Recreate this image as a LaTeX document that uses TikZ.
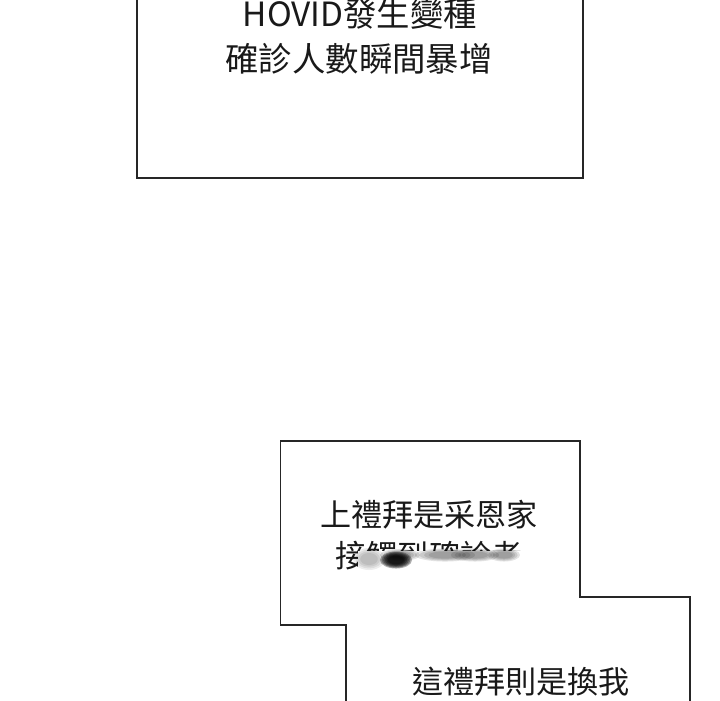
\documentclass[tikz,border=0pt]{standalone}
\usepackage{fontspec}
\newfontfamily\cjk{Noto Sans CJK TC}
\tikzset{
  bigtext/.style={font=\cjk\fontsize{9.5pt}{11pt}\selectfont,text=black!90,inner sep=0pt},
  smalltext/.style={font=\cjk\fontsize{8.85pt}{11pt}\selectfont,text=black!90,inner sep=0pt},
  panel/.style={draw=black!85,line width=0.55pt,line join=miter},
  smear/.style={fill=black,draw=none,opacity=0.11}
}
\begin{document}
\begin{tikzpicture}
  \useasboundingbox[fill=white] (0,0) rectangle (7.2,7);
  % upper panel
  \draw[panel] (1.37,7.1)--(1.37,5.22)--(5.83,5.22)--(5.83,7.1);
  % lower panel
  \draw[panel] (3.46,-0.1)--(3.46,0.75)--(2.805,0.75)--(2.805,2.59)--(5.80,2.59)
    --(5.80,1.03)--(6.90,1.03)--(6.90,-0.1);
  % labels
  \node[bigtext] (hovid) at (3.60,6.86) {HOVID發生變種};
  \node[bigtext] (cases) at (3.59,6.41) {確診人數瞬間暴增};
  \node[smalltext] (last) at (4.29,1.85) {上禮拜是采恩家};
  \node[smalltext] (touch) at (4.29,1.44) {接觸到確診者};
  \node[smalltext] (this) at (5.21,0.18) {這禮拜則是換我};
  % smeared part of the second line
  \fill[white] (3.58,1.24) rectangle (5.30,1.49);
  \foreach \r in {1.0,0.85,0.7,0.55} {
    \fill[smear,opacity=0.07] (3.69,1.41) ellipse ({0.16*\r} and {0.11*\r});
    \fill[smear] (4.00,1.45) ellipse ({0.20*\r} and {0.06*\r});
    \fill[smear] (4.45,1.45) ellipse ({0.30*\r} and {0.065*\r});
    \fill[smear] (4.75,1.45) ellipse ({0.24*\r} and {0.065*\r});
    \fill[smear] (5.04,1.45) ellipse ({0.16*\r} and {0.065*\r});
  }
  \foreach \r in {1.0,0.9,0.8,0.7,0.6,0.5} {
    \fill[smear,opacity=0.32] (3.96,1.40) ellipse ({0.16*\r} and {0.085*\r});
  }
\end{tikzpicture}
\end{document}
